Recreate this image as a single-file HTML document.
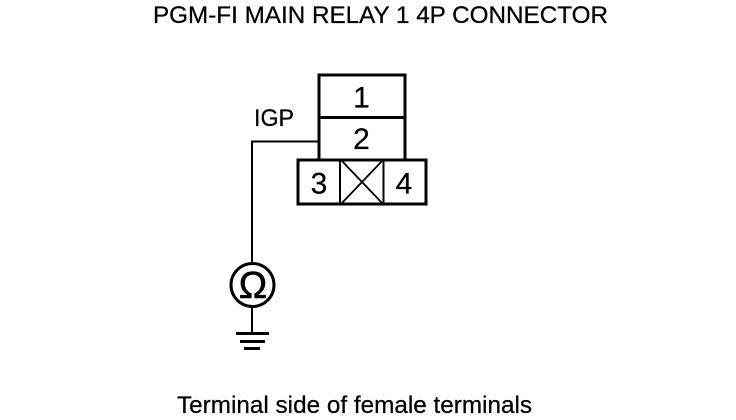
<!DOCTYPE html>
<html><head><meta charset="utf-8"><style>
html,body{margin:0;padding:0;background:#fff}
svg{display:block}
text{font-family:"Liberation Sans",sans-serif;fill:#000;stroke:#000;stroke-width:.25px}
</style></head><body>
<svg width="736" height="420" viewBox="0 0 736 420" xmlns="http://www.w3.org/2000/svg">
<rect width="736" height="420" fill="#fff"/>
<text x="380.500" y="23" font-size="24" text-anchor="middle" textLength="455" lengthAdjust="spacingAndGlyphs">PGM-FI MAIN RELAY 1 4P CONNECTOR</text>
<g fill="none" stroke="#000" shape-rendering="crispEdges">
<path d="M319 160V75H405V160" stroke-width="3"/>
<path d="M319 117.500H405" stroke-width="3"/>
<rect x="298" y="160" width="128" height="44" stroke-width="3"/>
<path d="M340 160V204M383.500 160V204" stroke-width="2"/>
<path d="M252 262V141.500H319" stroke-width="2"/>
<path d="M252 307V332" stroke-width="2"/>
<path d="M236 333.500H269" stroke-width="3"/>
<path d="M240 341.500H265" stroke-width="3"/>
<path d="M244 348.500H260" stroke-width="3"/>
</g>
<path d="M341 160L383 204M383 160L341 204" stroke="#000" stroke-width="1.800" fill="none"/>
<circle cx="252.500" cy="285" r="21.500" fill="#fff" stroke="#000" stroke-width="3"/>
<text x="253" y="298" font-size="38" text-anchor="middle" style="stroke-width:.6px">Ω</text>
<g font-size="30" text-anchor="middle">
<text x="361.500" y="107.500">1</text>
<text x="361.500" y="149">2</text>
<text x="319" y="193.500">3</text>
<text x="404" y="193.500">4</text>
</g>
<text x="254" y="126" font-size="24" textLength="40" lengthAdjust="spacingAndGlyphs">IGP</text>
<text x="354.500" y="413" font-size="24.300" text-anchor="middle" textLength="355" lengthAdjust="spacingAndGlyphs">Terminal side of female terminals</text>
</svg>
</body></html>
